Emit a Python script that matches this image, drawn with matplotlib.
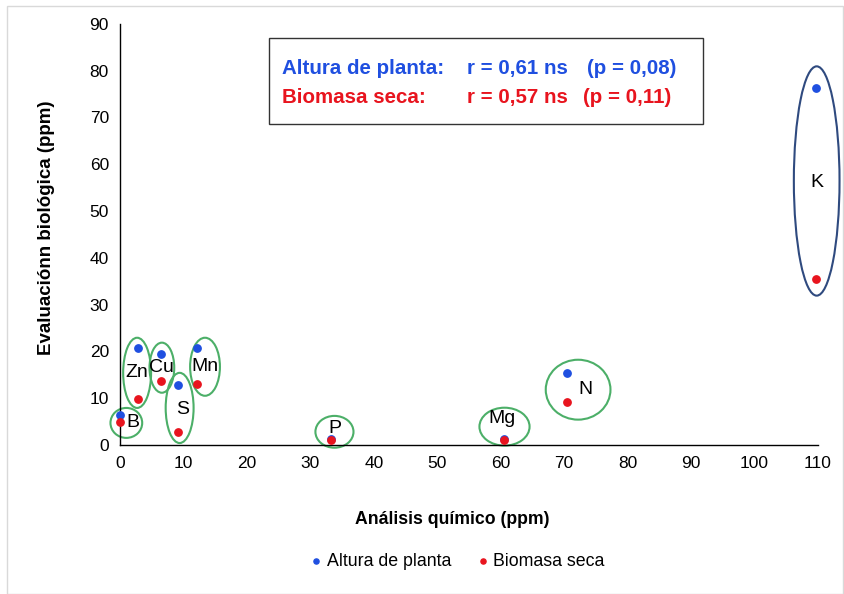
import matplotlib.pyplot as plt
from matplotlib.patches import Ellipse, Rectangle

plt.rcParams['font.family'] = ['Liberation Sans', 'DejaVu Sans']

# elementos y valores (ppm)
elementos = ['B', 'Zn', 'Cu', 'S', 'Mn', 'P', 'Mg', 'N', 'K']
quimico = [0.0, 2.8, 6.5, 9.1, 12.1, 33.3, 60.5, 70.4, 109.7]
altura = [6.4, 20.7, 19.4, 12.8, 20.7, 1.2, 1.3, 15.4, 76.3]
biomasa = [4.9, 9.8, 13.7, 2.8, 13.0, 1.1, 1.1, 9.2, 35.5]

xticks = list(range(0, 111, 10))
yticks = list(range(0, 91, 10))

azul = '#1F4FE0'
rojo = '#E8141E'
verde = '#4CAF68'

fig = plt.figure(figsize=(8.45, 5.94), dpi=100)
ax = fig.add_axes([0.142, 0.251, 0.826, 0.709])

# borde gris de la figura
fig.patches.append(Rectangle((0.008, 0.0), 0.99, 0.99, transform=fig.transFigure,
                             fill=False, edgecolor='#d9d9d9', lw=1))

ax.scatter(quimico, altura, s=28, color=azul, zorder=3, clip_on=False, label='Altura de planta')
ax.scatter(quimico, biomasa, s=28, color=rojo, zorder=4, clip_on=False, label='Biomasa seca')

ax.set_xlim(0, 110)
ax.set_ylim(0, 90)
ax.set_xticks(xticks)
ax.set_yticks(yticks)
ax.tick_params(length=0, labelsize=12.5, pad=8)
for s in ['top', 'right']:
    ax.spines[s].set_visible(False)
ax.spines['left'].set_linewidth(1)
ax.spines['bottom'].set_linewidth(1)

# elipses alrededor de cada elemento (centro x, centro y, ancho, alto)
elipses = {
    'B': (1.0, 4.7, 5.0, 6.4),
    'Zn': (2.7, 15.4, 4.4, 15.0),
    'Cu': (6.6, 16.5, 3.9, 10.7),
    'S': (9.4, 7.9, 4.4, 15.0),
    'Mn': (13.4, 16.7, 4.7, 12.4),
    'P': (33.8, 2.8, 6.0, 6.8),
    'Mg': (60.6, 3.9, 7.9, 8.1),
    'N': (72.2, 11.8, 10.2, 12.8),
    'K': (109.8, 56.4, 7.2, 49.0),
}
pos_texto = {
    'B': (2.1, 4.7), 'Zn': (2.6, 15.4), 'Cu': (6.6, 16.5), 'S': (9.8, 7.5),
    'Mn': (13.4, 16.8), 'P': (33.9, 3.6), 'Mg': (60.2, 5.7), 'N': (73.4, 11.8),
    'K': (109.8, 56.0),
}
for el in elementos:
    cx, cy, w, h = elipses[el]
    col = '#2F4A7F' if el == 'K' else verde
    ax.add_patch(Ellipse((cx, cy), w, h, fill=False, edgecolor=col, lw=1.5,
                         zorder=2, clip_on=False))
    tx, ty = pos_texto[el]
    ax.text(tx, ty, el, fontsize=14, ha='center', va='center', zorder=5)

fig.text(452 / 845, 1 - 520 / 594, 'Análisis químico (ppm)', fontsize=12.7,
         fontweight='bold', ha='center', va='center')
fig.text(47 / 845, 1 - 228 / 594, 'Evaluaciónn biológica (ppm)', fontsize=13.5,
         fontweight='bold', ha='center', va='center', rotation=90)

# cuadro de correlaciones
fig.patches.append(Rectangle((269 / 845, 1 - 124 / 594), 434 / 845, 86 / 594,
                             transform=fig.transFigure, fill=False,
                             edgecolor='#333333', lw=1))
filas = [('Altura de planta:', 'r = 0,61 ns', '(p = 0,08)', azul, 74, 587),
         ('Biomasa seca:', 'r = 0,57 ns', '(p = 0,11)', rojo, 103, 583)]
for nombre, r, p, col, y, xp in filas:
    for x, t in zip([282, 467, xp], [nombre, r, p]):
        fig.text(x / 845, 1 - y / 594, t, color=col, fontsize=14.8,
                 fontweight='bold', va='baseline')

fig.legend(loc='center', bbox_to_anchor=(456 / 845, 1 - 561 / 594), ncol=2,
           frameon=False, fontsize=12.8, markerscale=0.7, handlelength=1.0,
           handletextpad=0.1, columnspacing=1.25, borderpad=0, borderaxespad=0)

fig.savefig('out.png', dpi=100)
